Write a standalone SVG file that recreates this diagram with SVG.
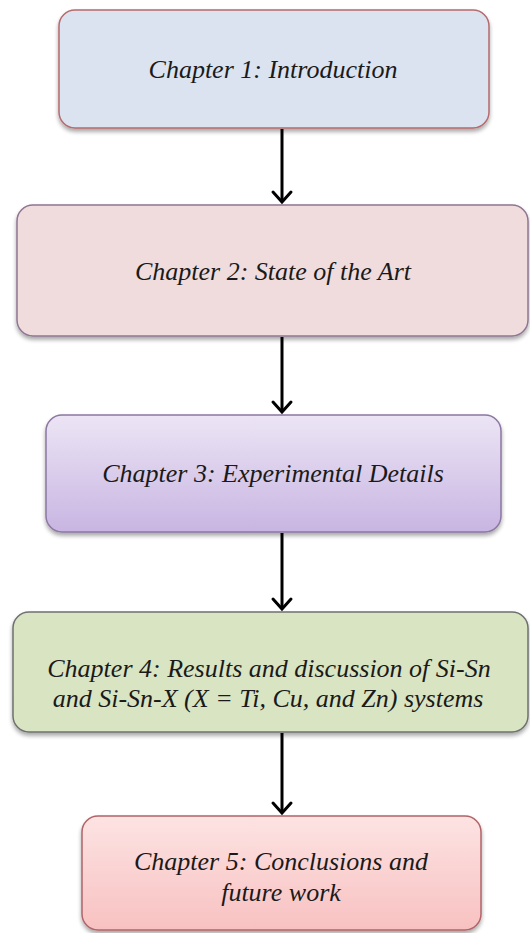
<svg xmlns="http://www.w3.org/2000/svg" width="530" height="933" viewBox="0 0 530 933">
<defs>
<filter id="sh" x="-5%" y="-10%" width="110%" height="125%">
<feGaussianBlur in="SourceAlpha" stdDeviation="2"/>
<feOffset dx="0" dy="3"/>
<feComponentTransfer><feFuncA type="linear" slope="0.35"/></feComponentTransfer>
<feMerge><feMergeNode/><feMergeNode in="SourceGraphic"/></feMerge>
</filter>
<linearGradient id="g3" x1="0" y1="0" x2="0" y2="1">
<stop offset="0" stop-color="#ece5f5"/><stop offset="1" stop-color="#c8b5e2"/>
</linearGradient>
<linearGradient id="g5" x1="0" y1="0" x2="0" y2="1">
<stop offset="0" stop-color="#fde3e3"/><stop offset="1" stop-color="#f8c1c1"/>
</linearGradient>
</defs>
<style>
.box{stroke-width:1.5;filter:url(#sh)}
.t{font-style:italic;font-size:26px;fill:#1a1a1a;text-anchor:middle}
.ln{stroke:#000;stroke-width:3;fill:none}
.hd{stroke:#000;stroke-width:3;fill:none;stroke-linecap:round;stroke-linejoin:miter}
</style>
<g font-family="'Liberation Serif', 'DejaVu Serif', serif">
<g id="n1">
<rect class="box" x="59" y="10" width="430" height="118" rx="16" fill="#dbe3f0" stroke="#b56a6e"/>
<text class="t" x="273" y="78">Chapter 1: Introduction</text>
</g>
<g id="n2">
<rect class="box" x="17" y="205" width="511" height="131" rx="16" fill="#f0dcdd" stroke="#8e7693"/>
<text class="t" x="273" y="280">Chapter 2: State of the Art</text>
</g>
<g id="n3">
<rect class="box" x="46" y="415" width="455" height="117" rx="16" fill="url(#g3)" stroke="#8b77a2"/>
<text class="t" x="273" y="482">Chapter 3: Experimental Details</text>
</g>
<g id="n4">
<rect class="box" x="13" y="612" width="515" height="120" rx="16" fill="#d9e4c2" stroke="#6f7070"/>
<text class="t" x="269" y="677">Chapter 4: Results and discussion of Si-Sn</text>
<text class="t" x="268" y="707">and Si-Sn-X (X = Ti, Cu, and Zn) systems</text>
</g>
<g id="n5">
<rect class="box" x="82" y="816" width="399" height="114" rx="16" fill="url(#g5)" stroke="#b06468"/>
<text class="t" x="281" y="870">Chapter 5: Conclusions and</text>
<text class="t" x="281" y="901">future work</text>
</g>
</g>
<g id="connectors">
<path class="ln" d="M282 129V202"/><path class="hd" d="M273 192L282 202L291 192"/>
<path class="ln" d="M282 337V412"/><path class="hd" d="M273 402L282 412L291 402"/>
<path class="ln" d="M282 533V609"/><path class="hd" d="M273 599L282 609L291 599"/>
<path class="ln" d="M282 733V813"/><path class="hd" d="M273 803L282 813L291 803"/>
</g>
</svg>
